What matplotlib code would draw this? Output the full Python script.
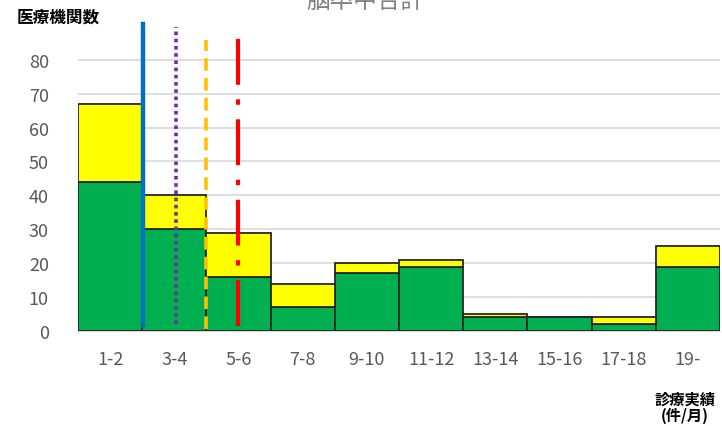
import matplotlib
matplotlib.use("Agg")
import matplotlib.pyplot as plt
import numpy as np

plt.rcParams['font.family'] = ['Noto Sans CJK JP', 'DejaVu Sans']

# data
categories = ['1-2', '3-4', '5-6', '7-8', '9-10', '11-12', '13-14', '15-16', '17-18', '19-']
green_vals = [44, 30, 16, 7, 17, 19, 4, 4, 2, 19]
total_vals = [67, 40, 29, 14, 20, 21, 5, 4, 4, 25]
yellow_vals = [t - g for t, g in zip(total_vals, green_vals)]
yticks = [0, 10, 20, 30, 40, 50, 60, 70, 80]

# reference lines (x position in category units, y span)
line_x = [0.51, 1.03, 1.49, 2.0]
line_y0 = [1.8, 2.0, 0.6, 1.5]
line_y1 = [90.6, 89.7, 85.8, 87.0]
line_col = ['#0070C0', '#7030A0', '#FFC000', '#FF0000']
line_sty = ['-', (0, (1, 1)), (0, (3.5, 2)), (0, (11, 3.5, 1.3, 3.5))]
line_w = [3.2, 2.6, 2.6, 3.0]

fig = plt.figure(figsize=(7.22, 4.27), dpi=100)
ax = fig.add_axes([78/722, 95/427, 642/722, 312/427])

x = np.arange(len(categories))
ax.bar(x, green_vals, width=1.0, color='#00B050', edgecolor='#262626', linewidth=1.3, zorder=3)
ax.bar(x, yellow_vals, width=1.0, bottom=green_vals, color='#FFFF00', edgecolor='#262626', linewidth=1.3, zorder=3)

for i in range(len(line_x)):
    ax.plot([line_x[i], line_x[i]], [line_y0[i], line_y1[i]], color=line_col[i],
            linestyle=line_sty[i], linewidth=line_w[i], zorder=5, clip_on=False)

ax.set_xlim(-0.5, len(categories) - 0.5)
ax.set_ylim(0, 92)
ax.set_yticks(yticks)
ax.set_yticklabels([str(v) for v in yticks], fontsize=13, color='#595959')
ax.set_xticks(x)
ax.set_xticklabels(categories, fontsize=13, color='#595959')
ax.tick_params(axis='both', length=0)
ax.tick_params(axis='x', pad=14)
ax.tick_params(axis='y', pad=21)
ax.grid(axis='y', color='#D9D9D9', linewidth=1.2, zorder=0)
for s in ['top', 'right', 'left']:
    ax.spines[s].set_visible(False)
ax.spines['bottom'].set_color('#D9D9D9')

fig.text(17/722, 1 - 18/427, '医療機関数', fontsize=12, fontweight='bold', va='center', ha='left')
fig.text(685/722, 1 - 408/427, '診療実績\n(件/月)', fontsize=11, fontweight='bold',
         va='center', ha='center', linespacing=1.05)
fig.text(365/722, 1 - 1/427, '脳卒中合計', fontsize=17, color='#7F7F7F', va='center', ha='center')

fig.savefig('out.png', dpi=100)
